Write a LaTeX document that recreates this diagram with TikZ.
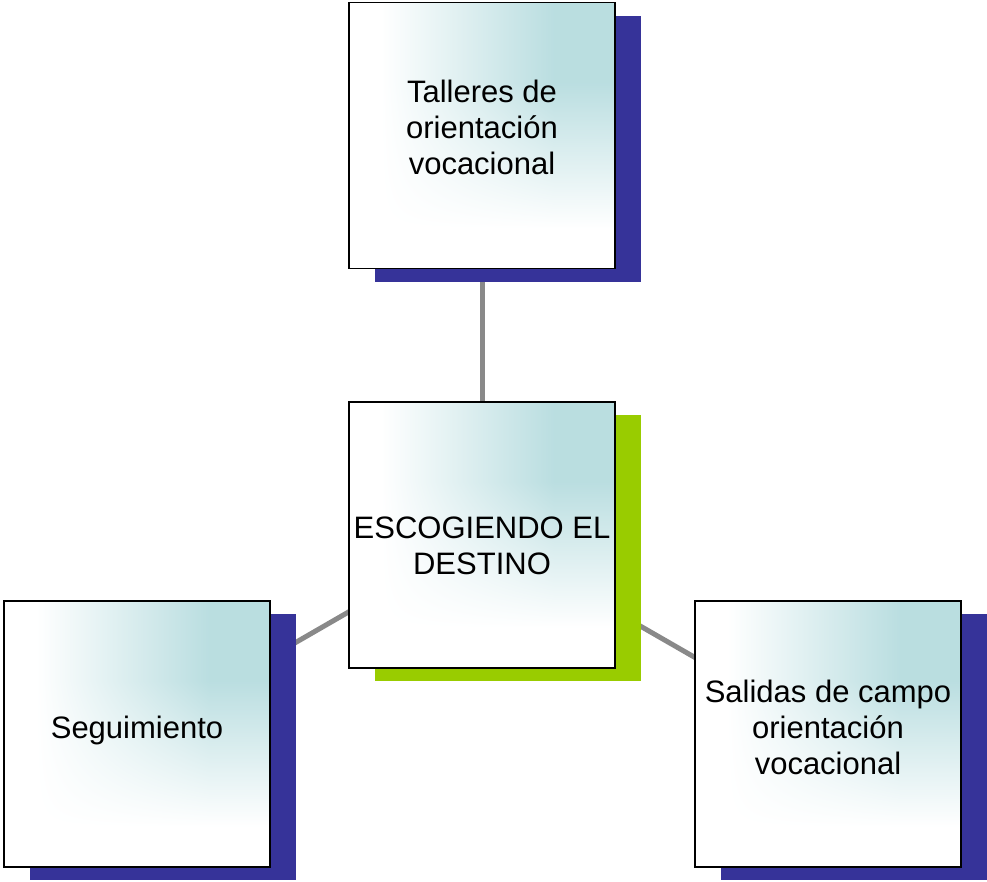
\documentclass[tikz,border=0pt]{standalone}
\usepackage{fontspec}
\setmainfont{Liberation Sans}
\usetikzlibrary{shadows,calc}
\pgfdeclarelayer{background}
\pgfsetlayers{background,main}
\definecolor{shadowblue}{HTML}{363399}
\definecolor{shadowgreen}{HTML}{99CC00}
\definecolor{linkgray}{HTML}{898989}
\pgfdeclarefunctionalshading{tealfade}{\pgfpoint{-50bp}{-50bp}}{\pgfpoint{50bp}{50bp}}{}{
  exch 25 add 50 div 0.12 sub 0.65 div dup 0 lt {pop 0} if dup 1 gt {pop 1} if
  exch 25 add 50 div 0.15 sub 0.55 div dup 0 lt {pop 0} if dup 1 gt {pop 1} if
  mul
  dup 0.27 mul 1 exch sub
  exch dup 0.13 mul 1 exch sub
  exch 0.12 mul 1 exch sub
}
\tikzset{
  box/.style={draw=black, line width=1.6pt, shading=tealfade,
    minimum width=266pt, minimum height=266pt, inner sep=0pt},
  blueshadow/.style={general shadow={fill=shadowblue, shadow xshift=26pt, shadow yshift=-13pt}},
  greenshadow/.style={general shadow={fill=shadowgreen, shadow xshift=26pt, shadow yshift=-13pt}},
  label text/.style={align=center, font=\fontsize{31pt}{36pt}\selectfont, inner sep=0pt},
  link/.style={draw=linkgray, line width=5pt}
}
\begin{document}
\begin{tikzpicture}[x=1pt,y=-1pt]
\useasboundingbox (0,0) rectangle (987,881);
\node[box, blueshadow] (top) at (482,135.5) {};
\node[box, greenshadow] (center) at (482,535) {};
\node[box, blueshadow] (left) at (137,734) {};
\node[box, blueshadow] (right) at (828,734) {};
\node[label text] (ttop) at (482,127.5) {Talleres de\\orientación\\vocacional};
\node[label text] (tcenter) at (482,545.6) {ESCOGIENDO EL\\DESTINO};
\node[label text] (tleft) at (137,730.4) {Seguimiento};
\node[label text] (tright) at (828,727) {Salidas de campo\\orientación\\vocacional};
\begin{pgfonlayer}{background}
\draw[link] (center.center) -- (top.center);
\draw[link] (center.center) -- (left.center);
\draw[link] (center.center) -- (right.center);
\end{pgfonlayer}
\end{tikzpicture}
\end{document}
